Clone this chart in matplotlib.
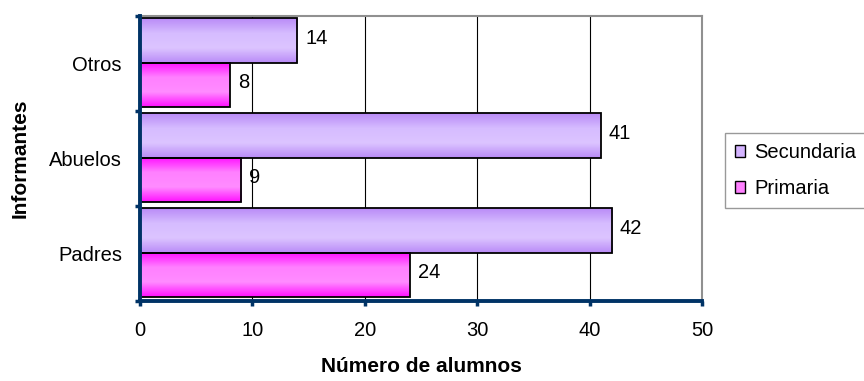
import numpy as np
import matplotlib.pyplot as plt
from matplotlib.patches import Patch
from matplotlib.colors import LinearSegmentedColormap

plt.rcParams['font.family'] = ['Liberation Sans', 'DejaVu Sans']

categorias = ['Padres', 'Abuelos', 'Otros']
secundaria = [42, 41, 14]
primaria = [24, 9, 8]

azul = '#003366'
h = 0.468
fs = 14.5

cmap_sec = LinearSegmentedColormap.from_list('sec', ['#b98bf7', '#dcc4ff', '#d6bcff', '#b98bf7'])
cmap_pri = LinearSegmentedColormap.from_list('pri', ['#ff10ff', '#ff8cff', '#ff80ff', '#ff10ff'])
grad = np.linspace(0, 1, 64).reshape(-1, 1)

fig = plt.figure(figsize=(8.64, 3.81), dpi=100)
ax = fig.add_axes([140 / 864, 1 - 301 / 381, 562 / 864, 285 / 381])

y = np.arange(len(categorias))


def barras(vals, offset, cmap):
    for yi, v in zip(y, vals):
        y0 = yi + offset - h / 2
        ax.imshow(grad, cmap=cmap, aspect='auto', extent=(0, v, y0, y0 + h),
                  origin='lower', zorder=2, interpolation='bilinear')
    ax.barh(y + offset, vals, height=h, facecolor='none', edgecolor='black',
            linewidth=1.3, zorder=3)
    for yi, v in zip(y, vals):
        ax.text(v + 0.7, yi + offset + 0.02, str(v), va='center', ha='left', fontsize=fs, zorder=4)


barras(secundaria, h / 2 + 0.01, cmap_sec)
barras(primaria, -h / 2 + 0.01, cmap_pri)

ax.set_xlim(0, 50)
ax.set_ylim(-0.5, 2.5)

ax.set_xticks(range(0, 51, 10))
ax.set_yticks(y)
ax.set_yticklabels(categorias)
ax.set_yticks([-0.5, 0.5, 1.5, 2.5], minor=True)
ax.tick_params(axis='y', which='major', length=0, pad=13, labelsize=fs)
ax.tick_params(axis='y', which='minor', length=3.5, width=2.5, color=azul, direction='out')
ax.tick_params(axis='x', length=3.5, width=2.5, color=azul, direction='out', pad=11, labelsize=fs)

ax.grid(axis='x', color='black', linewidth=0.8, zorder=1)
ax.set_axisbelow(True)

for s in ['top', 'right']:
    ax.spines[s].set_color('#909090')
    ax.spines[s].set_linewidth(1.5)
for s in ['left', 'bottom']:
    ax.spines[s].set_color(azul)
    ax.spines[s].set_linewidth(2.8)
    ax.spines[s].set_zorder(5)

ax.set_xlabel('Número de alumnos', fontsize=15, fontweight='bold', labelpad=12)
ax.set_ylabel('Informantes', fontsize=15, fontweight='bold', labelpad=14)

handles = [Patch(facecolor='#d4b4ff', edgecolor='black', label='Secundaria'),
           Patch(facecolor='#ff80ff', edgecolor='black', label='Primaria')]
fig.legend(handles=handles, loc='upper left', bbox_to_anchor=(725 / 864, 1 - 133 / 381),
           frameon=True, fancybox=False, edgecolor='#808080', fontsize=fs,
           handlelength=0.5, handleheight=0.5, handletextpad=0.45, labelspacing=0.85,
           borderpad=0.5, borderaxespad=0)

fig.savefig('out.png', dpi=100)
